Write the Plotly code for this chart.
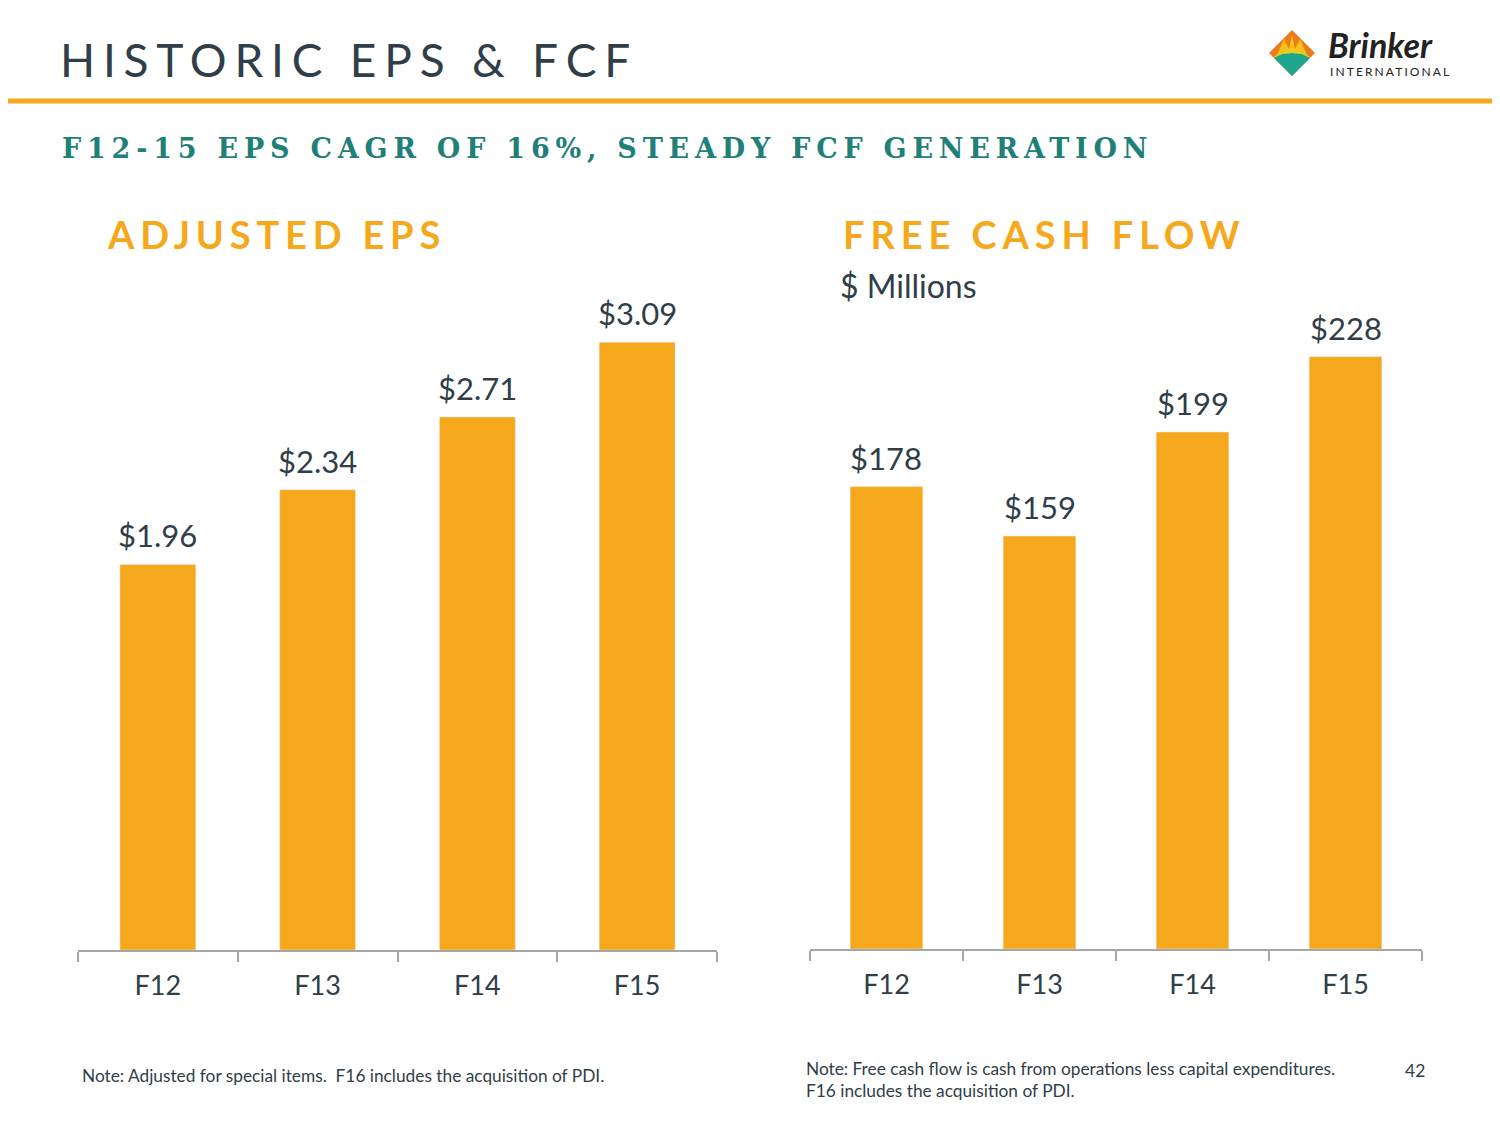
import plotly.graph_objects as go

# ---- data ----
categories = ["F12", "F13", "F14", "F15"]
eps_values = [1.96, 2.34, 2.71, 3.09]
eps_labels = ["$1.96", "$2.34", "$2.71", "$3.09"]
fcf_values = [178, 159, 199, 228]
fcf_labels = ["$178", "$159", "$199", "$228"]

W, H = 1500, 1125
OFF = 8  # page body margin
ORANGE = "#F5A81C"
DARK = "#2F3E48"
TEAL = "#1F7F79"
AXIS = "#A6A6A6"
FONT = "Lato"


def px(x):
    return (x - OFF) / W


def py(y):
    return 1 - (y - OFF) / H


fig = go.Figure()
fig.add_trace(go.Bar(x=categories, y=eps_values, marker_color=ORANGE,
                     xaxis="x", yaxis="y", hoverinfo="skip"))
fig.add_trace(go.Bar(x=categories, y=fcf_values, marker_color=ORANGE,
                     xaxis="x2", yaxis="y2", hoverinfo="skip"))

xcommon = dict(showline=True, linecolor=AXIS, linewidth=1.5, ticks="outside",
               tickson="boundaries", ticklen=10, tickcolor=AXIS, tickwidth=1.5,
               tickfont=dict(family=FONT, size=27, color=DARK),
               ticklabelstandoff=11, showgrid=False, zeroline=False,
               fixedrange=True)
ycommon = dict(visible=False, showgrid=False, zeroline=False, fixedrange=True)

annotations = []
for c, v, t in zip(categories, eps_values, eps_labels):
    annotations.append(dict(x=c, y=v, xref="x", yref="y", text=t, showarrow=False,
                            yanchor="bottom", yshift=8,
                            font=dict(family=FONT, size=31, color=DARK)))
for c, v, t in zip(categories, fcf_values, fcf_labels):
    annotations.append(dict(x=c, y=v, xref="x2", yref="y2", text=t, showarrow=False,
                            yanchor="bottom", yshift=8,
                            font=dict(family=FONT, size=31, color=DARK)))


def txt(x, y, text, size, color, family=FONT, xanchor="left", yanchor="middle", spacing=None, weight=None):
    if spacing is not None:
        text = f'<span style="letter-spacing:{spacing}px">{text}</span>'
    f = dict(family=family, size=size, color=color)
    if weight:
        f["weight"] = weight
    annotations.append(dict(x=px(x), y=py(y), xref="paper", yref="paper", text=text,
                            showarrow=False, xanchor=xanchor, yanchor=yanchor,
                            font=f, align="left"))


txt(58, 60, "HISTORIC EPS &amp; FCF", 46, DARK, spacing=7.8)
txt(60, 148, "<b>F12-15 EPS CAGR OF 16%, STEADY FCF GENERATION</b>", 27, TEAL,
    family="DejaVu Serif", spacing=5.8)
txt(105, 234, "<b>ADJUSTED EPS</b>", 38, ORANGE, spacing=5.8)
txt(841, 234, "<b>FREE CASH FLOW</b>", 38, ORANGE, spacing=5.9)
txt(838, 286, "$ Millions", 32, DARK)
txt(80, 1075, "Note: Adjusted for special items.  F16 includes the acquisition of PDI.", 17.3, DARK)
txt(804, 1079, "Note: Free cash flow is cash from operations less capital expenditures.<br>F16 includes the acquisition of PDI.", 17.3, DARK)
txt(1427, 1070, "42", 17.5, DARK, xanchor="right")
# logo text
txt(1326, 45, "<b><i>Brinker</i></b>", 34, "#222222", weight=900)
txt(1328, 72, "INTERNATIONAL", 12, "#222222", spacing=2.1)

shapes = []
# orange rule under the title
shapes.append(dict(type="line", xref="paper", yref="paper", x0=0, x1=1,
                   y0=py(101), y1=py(101), line=dict(color=ORANGE, width=5)))


def path(points):
    return "M " + " L ".join(f"{px(x):.5f},{py(y):.5f}" for x, y in points) + " Z"


# logo diamond
cx, cy, r = 1292, 53, 23
shapes.append(dict(type="path", xref="paper", yref="paper",
                   path=path([(cx - r, cy), (cx, cy - r), (cx + r, cy), (cx, cy + r)]),
                   fillcolor="#EE7A1E", line=dict(width=0)))
shapes.append(dict(type="path", xref="paper", yref="paper",
                   path=path([(cx - 15, cy + 2), (cx - 8, cy - 14), (cx - 3, cy - 4), (cx, cy - 18),
                              (cx + 3, cy - 4), (cx + 8, cy - 14), (cx + 15, cy + 2)]),
                   fillcolor="#F8C21C", line=dict(width=0)))
shapes.append(dict(type="path", xref="paper", yref="paper",
                   path=path([(cx - r + 5, cy + 5), (cx - 10, cy + 1), (cx, cy), (cx + 10, cy + 1),
                              (cx + r - 5, cy + 5), (cx, cy + r)]),
                   fillcolor="#1FA58C", line=dict(width=0)))
shapes.append(dict(type="path", xref="paper", yref="paper",
                   path=path([(cx - r + 5, cy + 5), (cx - 10, cy + 1), (cx, cy), (cx + 10, cy + 1),
                              (cx + r - 5, cy + 5), (cx + r - 6, cy + 3), (cx + 10, cy - 1),
                              (cx, cy - 2), (cx - 10, cy - 1), (cx - r + 6, cy + 3)]),
                   fillcolor="#C9D72B", line=dict(width=0)))

fig.update_layout(
    width=W, height=H,
    margin=dict(l=0, r=0, t=0, b=0),
    paper_bgcolor="white", plot_bgcolor="white",
    showlegend=False,
    bargap=0.525,
    xaxis=dict(domain=[px(78), px(717)], anchor="y", **xcommon),
    yaxis=dict(domain=[py(950), py(280)], range=[0, 670 / 196.7], anchor="x", **ycommon),
    xaxis2=dict(domain=[px(810), px(1422)], anchor="y2", **xcommon),
    yaxis2=dict(domain=[py(949), py(280)], range=[0, 669 / 2.598], anchor="x2", **ycommon),
    annotations=annotations,
    shapes=shapes,
)

fig.write_html("out.html")
